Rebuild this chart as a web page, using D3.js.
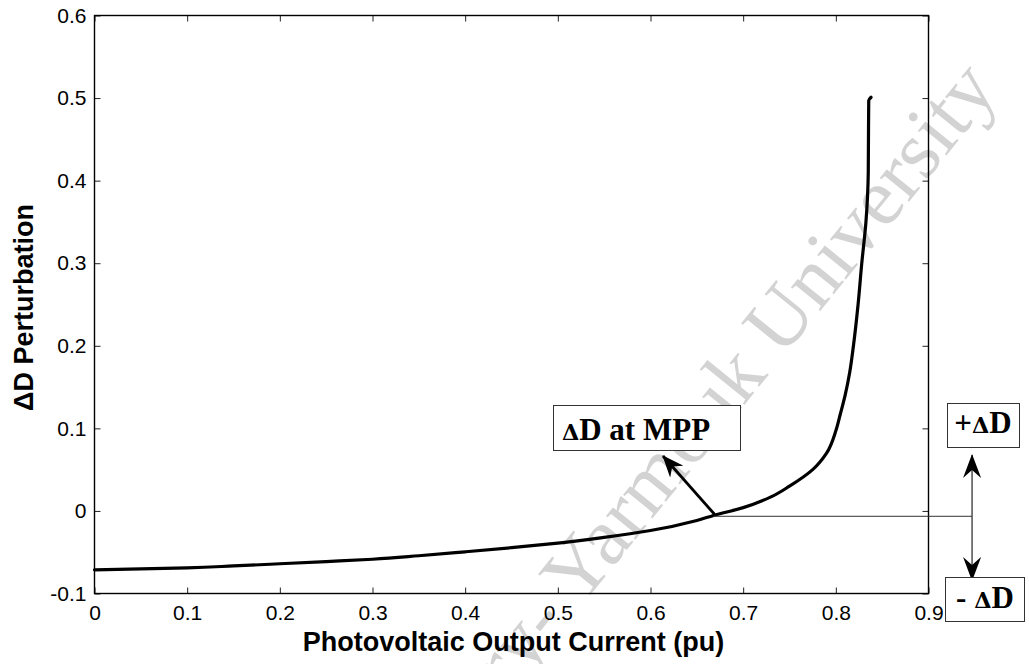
<!DOCTYPE html>
<html><head><meta charset="utf-8">
<script src="https://cdn.jsdelivr.net/npm/d3@7"></script>
<style>body{margin:0;background:#fff}svg{display:block}</style>
</head><body><svg id="c" width="1029" height="664"></svg>
<script>
// ---- data ----
const current = [0, 0.05, 0.1, 0.15, 0.2, 0.25, 0.3, 0.35, 0.4, 0.45, 0.5, 0.55, 0.6, 0.65, 0.668, 0.7, 0.73, 0.75, 0.775, 0.79, 0.8, 0.805, 0.81, 0.815, 0.819, 0.824, 0.828, 0.8325, 0.835, 0.8355, 0.838];
const deltaD  = [-0.0713, -0.0702, -0.0689, -0.0666, -0.064, -0.0613, -0.0585, -0.0543, -0.0495, -0.0445, -0.039, -0.032, -0.0237, -0.0115, -0.0055, 0.004, 0.017, 0.03, 0.05, 0.07, 0.097, 0.118, 0.14, 0.168, 0.2, 0.25, 0.3, 0.35, 0.41, 0.497, 0.501];
const xTicks = [0, 0.1, 0.2, 0.3, 0.4, 0.5, 0.6, 0.7, 0.8, 0.9];
const yTicks = [-0.1, 0, 0.1, 0.2, 0.3, 0.4, 0.5, 0.6];
const xLabel = "Photovoltaic Output Current (pu)";
const yLabel = "\u0394D Perturbation";
const mppPoint = [0.668, -0.0065];
const mppArrowTip = [0.6135, 0.0665];
const mppText = ["\u0394", "D at MPP"];
const plusText = ["+", "\u0394", "D"];
const minusText = ["- ", "\u0394", "D"];
const watermark = "ary- Yarmouk University";

// ---- layout ----
const svg = d3.select("#c");
const x = d3.scaleLinear().domain([0, 0.9]).range([94.5, 928.5]);
const y = d3.scaleLinear().domain([-0.1, 0.6]).range([593.5, 15.5]);
const fmt = d => d === 0 ? "0" : String(+d.toFixed(1));
const sans = "'Liberation Sans', Arial, Helvetica, sans-serif";
const serif = "'Liberation Serif', 'Times New Roman', serif";

// watermark (behind everything)
svg.append("text")
  .attr("transform", "translate(721,390) rotate(-51)")
  .attr("text-anchor", "middle").attr("dominant-baseline", "central")
  .attr("font-family", serif).attr("font-size", 82)
  .attr("fill", "#d3d3d3").text(watermark);

const defs = svg.append("defs");
defs.append("marker").attr("id", "headBig").attr("viewBox", "0 0 22 18")
  .attr("refX", 21).attr("refY", 9).attr("markerWidth", 22).attr("markerHeight", 18)
  .attr("markerUnits", "userSpaceOnUse").attr("orient", "auto")
  .append("path").attr("d", "M0,0 L22,9 L0,18 L7,9 Z").attr("fill", "#000");
defs.append("marker").attr("id", "headThin").attr("viewBox", "0 0 24 18")
  .attr("refX", 23).attr("refY", 9).attr("markerWidth", 24).attr("markerHeight", 18)
  .attr("markerUnits", "userSpaceOnUse").attr("orient", "auto")
  .append("path").attr("d", "M0,0 L24,9 L0,18 L8,9 Z").attr("fill", "#000");

// axes (ticks inward, MATLAB box style)
const gx = svg.append("g").attr("transform", `translate(0,${y.range()[0]})`)
  .call(d3.axisBottom(x).tickValues(xTicks).tickFormat(fmt).tickSizeInner(-6).tickSizeOuter(0).tickPadding(12));
const gxt = svg.append("g").attr("transform", `translate(0,${y.range()[1]})`)
  .call(d3.axisTop(x).tickValues(xTicks).tickFormat("").tickSizeInner(-6).tickSizeOuter(0));
const gy = svg.append("g").attr("transform", `translate(${x.range()[0]},0)`)
  .call(d3.axisLeft(y).tickValues(yTicks).tickFormat(fmt).tickSizeInner(-6).tickSizeOuter(0).tickPadding(8));
const gyr = svg.append("g").attr("transform", `translate(${x.range()[1]},0)`)
  .call(d3.axisRight(y).tickValues(yTicks).tickFormat("").tickSizeInner(-6).tickSizeOuter(0));
[gx, gxt, gy, gyr].forEach(g => {
  g.select(".domain").remove();
  g.selectAll(".tick line").attr("stroke", "#222").attr("stroke-width", 1);
  g.selectAll("text").attr("font-family", sans).attr("font-size", 21).attr("fill", "#000");
});
svg.append("rect").attr("x", x.range()[0]).attr("y", y.range()[1])
  .attr("width", x.range()[1] - x.range()[0]).attr("height", y.range()[0] - y.range()[1])
  .attr("fill", "none").attr("stroke", "#000").attr("stroke-width", 1.4);

// axis labels
svg.append("text").attr("x", (x.range()[0] + x.range()[1]) / 2 + 2).attr("y", 651)
  .attr("text-anchor", "middle").attr("font-family", sans).attr("font-weight", "bold")
  .attr("font-size", 27).text(xLabel);
svg.append("text").attr("transform", `translate(33,${(y.range()[0] + y.range()[1]) / 2 + 3}) rotate(-90)`)
  .attr("text-anchor", "middle").attr("font-family", sans).attr("font-weight", "bold")
  .attr("font-size", 27).text(yLabel);

// curve
const pts = current.map((c, i) => [c, deltaD[i]]);
svg.append("path").datum(pts)
  .attr("d", d3.line().x(d => x(d[0])).y(d => y(d[1])).curve(d3.curveMonotoneY))
  .attr("fill", "none").attr("stroke", "#000").attr("stroke-width", 3.2)
  .attr("stroke-linejoin", "round").attr("stroke-linecap", "round");

// MPP horizontal reference line and +/- arrow
const arrowX = x(0.947);
svg.append("line").attr("x1", x(mppPoint[0])).attr("x2", arrowX)
  .attr("y1", y(mppPoint[1])).attr("y2", y(mppPoint[1]))
  .attr("stroke", "#333").attr("stroke-width", 1);
svg.append("line").attr("x1", arrowX).attr("x2", arrowX)
  .attr("y1", y(mppPoint[1])).attr("y2", 455)
  .attr("stroke", "#222").attr("stroke-width", 1.2).attr("marker-end", "url(#headThin)");
svg.append("line").attr("x1", arrowX).attr("x2", arrowX)
  .attr("y1", y(mppPoint[1])).attr("y2", 580)
  .attr("stroke", "#222").attr("stroke-width", 1.2).attr("marker-end", "url(#headThin)");

// MPP arrow
svg.append("line").attr("x1", x(mppPoint[0]) + 1).attr("y1", y(mppPoint[1]) - 2)
  .attr("x2", x(mppArrowTip[0])).attr("y2", y(mppArrowTip[1]))
  .attr("stroke", "#000").attr("stroke-width", 2.8).attr("marker-end", "url(#headBig)");

// text boxes
function box(bx, by, bw, bh, parts, tx, ty, size) {
  svg.append("rect").attr("x", bx + 0.5).attr("y", by + 0.5).attr("width", bw).attr("height", bh)
    .attr("fill", "#fff").attr("stroke", "#333").attr("stroke-width", 1);
  const t = svg.append("text").attr("x", tx).attr("y", ty).attr("text-anchor", "middle")
    .attr("font-family", serif).attr("font-weight", "bold").attr("font-size", size);
  parts.forEach(p => {
    const s = t.append("tspan").text(p);
    if (p === "\u0394") s.attr("font-size", size * 0.72).attr("font-family", "'DejaVu Serif', serif");
  });
}
box(553, 405, 187, 45, mppText, 636, 440, 31);
box(947, 403, 72, 44, plusText, 983, 433, 31);
box(945, 577, 79, 44, minusText, 985, 608, 31);
</script></body></html>
